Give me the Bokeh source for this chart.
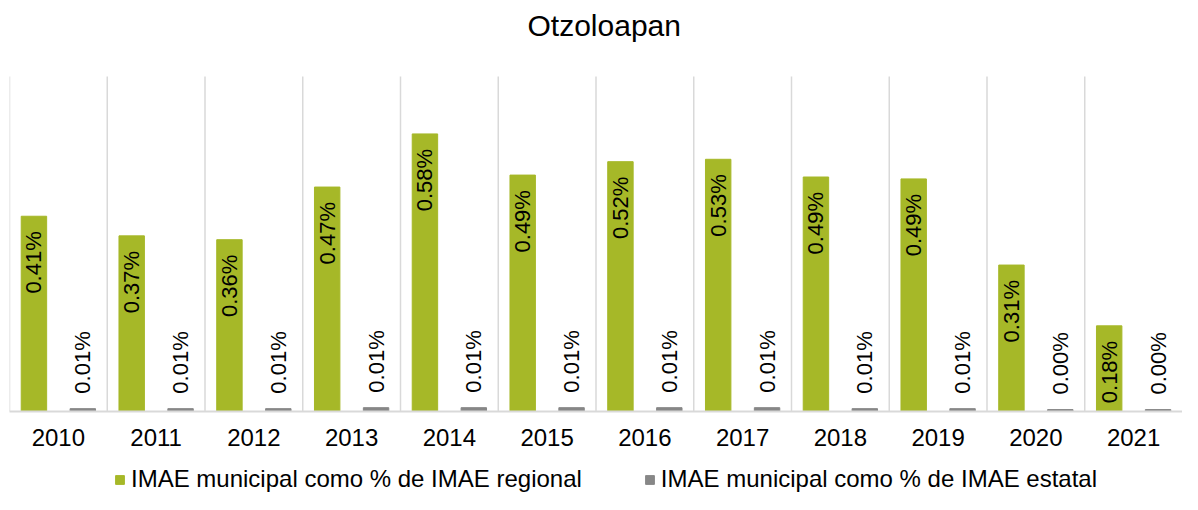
import numpy as np
from bokeh.plotting import figure
from bokeh.layouts import column
from bokeh.models import ColumnDataSource, Range1d, FixedTicker, Legend, LegendItem
from bokeh.embed import file_html
from bokeh.resources import INLINE
from bokeh.core.properties import value

# ---- data ----
title_text = "Otzoloapan"
years = ["2010", "2011", "2012", "2013", "2014", "2015",
         "2016", "2017", "2018", "2019", "2020", "2021"]
regional = [0.408, 0.367, 0.359, 0.469, 0.580, 0.494,
            0.522, 0.527, 0.490, 0.486, 0.306, 0.179]
estatal = [0.006, 0.006, 0.006, 0.008, 0.008, 0.008,
           0.008, 0.008, 0.006, 0.006, 0.004, 0.004]
series_names = ["IMAE municipal como % de IMAE regional",
                "IMAE municipal como % de IMAE estatal"]

# ---- styles / layout ----
FONT = "Liberation Sans"
GREEN = "#a6b828"
GRAY = "#878787"
GRID = "#d9d9d9"
W = 1182
H_MAIN, H_LEG = 460, 34
FRAME_TOP, GRID_TOP, FRAME_BOTTOM = 47, 76, 411   # pixel rows
Y_TOP = 0.70                                      # value at top of the grid area
y_end = Y_TOP * (FRAME_BOTTOM - FRAME_TOP) / (FRAME_BOTTOM - GRID_TOP)

n = len(years)
idx = np.arange(n)
centers = idx + 0.5

src = ColumnDataSource(dict(
    xg=centers - 0.25,
    xs=centers + 0.25,
    reg=regional,
    est=estatal,
    reg_lbl=[f"{v:.2f}%" for v in regional],
    est_lbl=[f"{v:.2f}%" for v in estatal],
))

p = figure(width=W, height=H_MAIN, output_backend="svg", toolbar_location=None,
           x_range=Range1d(0, n), y_range=Range1d(0, y_end),
           y_axis_location=None,
           min_border_left=9, min_border_right=0,
           min_border_top=FRAME_TOP, min_border_bottom=H_MAIN - FRAME_BOTTOM)
p.outline_line_color = None
p.background_fill_color = "white"
p.border_fill_color = "white"
p.grid.grid_line_color = None

# title
p.title.text = title_text
p.title.align = "left"
p.title.offset = 518
p.title.vertical_align = "bottom"
p.title.standoff = 11
p.title.text_font = FONT
p.title.text_font_size = "30px"
p.title.text_font_style = "normal"
p.title.text_color = "black"

# separators between categories
p.segment(x0=idx, y0=0, x1=idx, y1=Y_TOP, line_color=GRID, line_width=1.5)

# x axis
p.xaxis.ticker = FixedTicker(ticks=[float(c) for c in centers])
p.xaxis.major_label_overrides = {float(c): y for c, y in zip(centers, years)}
p.xaxis.axis_line_color = GRID
p.xaxis.axis_line_width = 2
p.xaxis.major_tick_line_color = None
p.xaxis.major_tick_out = 0
p.xaxis.minor_tick_line_color = None
p.xaxis.minor_tick_out = 0
p.xaxis.major_label_text_font = FONT
p.xaxis.major_label_text_font_size = "24px"
p.xaxis.major_label_text_color = "black"
p.xaxis.major_label_standoff = 17

# bars
r1 = p.vbar(x="xg", top="reg", width=0.26, color=GREEN, source=src)
r2 = p.vbar(x="xs", top="est", width=0.26, color=GRAY, source=src)

# data labels
p.text(x="xg", y="reg", text="reg_lbl", angle=np.pi / 2,
       text_align="right", text_baseline="middle", y_offset=15,
       text_font=value(FONT), text_font_size="22px", text_color="black",
       source=src)
p.text(x="xs", y="est", text="est_lbl", angle=np.pi / 2,
       text_align="left", text_baseline="middle", y_offset=-15,
       text_font=value(FONT), text_font_size="22px", text_color="black",
       source=src)

# legend strip (separate figure under the chart; its view shows no bars,
# the renderers only provide the legend swatches)
pl = figure(width=W, height=H_LEG, output_backend="svg", toolbar_location=None,
            x_range=Range1d(-3, -2), y_range=Range1d(0, 1),
            x_axis_location=None, y_axis_location=None,
            min_border=0)
pl.outline_line_color = None
pl.grid.grid_line_color = None
pl.background_fill_color = "white"
pl.border_fill_color = "white"
k1 = pl.vbar(x="xg", top="reg", width=0.26, color=GREEN, source=src)
k2 = pl.vbar(x="xs", top="est", width=0.26, color=GRAY, source=src)
legend = Legend(items=[LegendItem(label=series_names[0], renderers=[k1]),
                       LegendItem(label=series_names[1], renderers=[k2])],
                orientation="horizontal", location=(105, 1),
                glyph_width=11, glyph_height=11, label_standoff=6, spacing=62,
                padding=0, margin=0, border_line_color=None,
                background_fill_alpha=0,
                label_text_font=FONT, label_text_font_size="24px",
                label_text_color="black")
pl.add_layout(legend, "center")

layout = column(p, pl, spacing=0)
open("out.html", "w").write(file_html(layout, INLINE))
